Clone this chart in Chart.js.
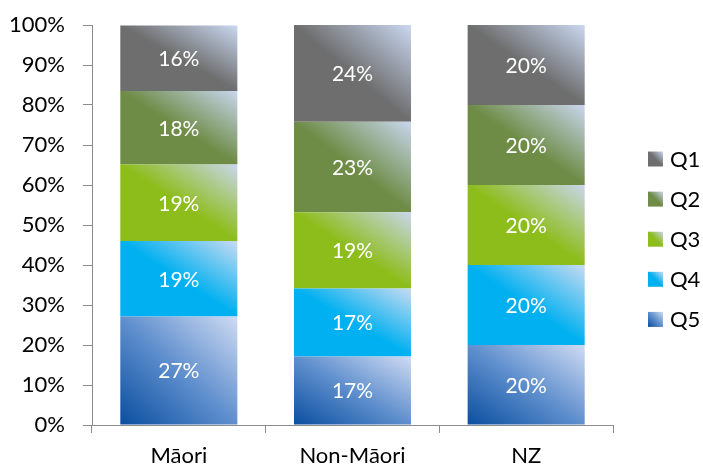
<!DOCTYPE html>
<html>
<head>
<meta charset="utf-8">
<script src="https://cdn.jsdelivr.net/npm/chart.js@4/dist/chart.umd.min.js"></script>
<style>
  html, body { margin: 0; padding: 0; background: #fff; }
  #wrap { width: 703px; height: 470px; position: relative; }
</style>
</head>
<body>
<div id="wrap"><canvas id="grafico"></canvas></div>
<script>
// dados (percentuais, de baixo para cima)
const categorias = ["Māori", "Non-Māori", "NZ"];
const serieQ5 = [27.1, 17.1, 20];
const serieQ4 = [18.9, 17.0, 20];
const serieQ3 = [19.1, 19.1, 20];
const serieQ2 = [18.4, 22.6, 20];
const serieQ1 = [16.4, 24.2, 20];
const ticksY = [0, 10, 20, 30, 40, 50, 60, 70, 80, 90, 100];

const FONTE = "Lato, 'Open Sans', sans-serif";
const BAR_PCT = 0.674;

// cores: base, meio, claro
const cores = {
  Q5: ["#0a4e9f", "#5f8fcd", "#cfdbf3"],
  Q4: ["#00b0f0", "#00b0f0", "#c8dbf2"],
  Q3: ["#8dbd1b", "#8dbd1b", "#c9d6ec"],
  Q2: ["#6e8c46", "#6e8c46", "#c9d6ee"],
  Q1: ["#6e6e6e", "#6e6e6e", "#cad8f1"],
};

function gradienteRet(ctx2d, left, top, right, bottom, cor) {
  const w = right - left;
  const h = bottom - top;
  const cx = left + w / 2;
  const cy = top + h / 2;
  const diag = Math.sqrt(w * w + h * h);
  const L = (2 * w * h) / diag;
  const ux = h / diag, uy = -w / diag;
  const g = ctx2d.createLinearGradient(
    cx - ux * L / 2, cy - uy * L / 2,
    cx + ux * L / 2, cy + uy * L / 2
  );
  g.addColorStop(0, cor[0]);
  g.addColorStop(0.5, cor[1]);
  g.addColorStop(1, cor[2]);
  return g;
}

function fundoSegmento(nome) {
  return (context) => {
    const cor = cores[nome];
    if (context.type !== "data") return cor[1];
    const chart = context.chart;
    const xs = chart.scales.x, ys = chart.scales.y;
    if (!chart.chartArea || !xs || !ys) return cor[1];
    const i = context.dataIndex;
    let base = 0;
    for (let d = 0; d < context.datasetIndex; d++) {
      base += chart.data.datasets[d].data[i];
    }
    const topo = base + chart.data.datasets[context.datasetIndex].data[i];
    const cx = xs.getPixelForValue(i);
    const meia = xs.width / categorias.length * BAR_PCT / 2;
    const yTop = ys.getPixelForValue(topo);
    const yBot = ys.getPixelForValue(base);
    if (![cx, meia, yTop, yBot].every(Number.isFinite) || meia <= 0 || yBot - yTop <= 0) return cor[1];
    return gradienteRet(chart.ctx, cx - meia, yTop, cx + meia, yBot, cor);
  };
}

// rótulos brancos no meio de cada segmento
const pluginRotulos = {
  id: "rotulos",
  afterDatasetsDraw(chart) {
    const ctx = chart.ctx;
    ctx.save();
    ctx.fillStyle = "#ffffff";
    ctx.font = "21px " + FONTE;
    ctx.textAlign = "center";
    ctx.textBaseline = "middle";
    chart.data.datasets.forEach((ds, d) => {
      const meta = chart.getDatasetMeta(d);
      meta.data.forEach((el, i) => {
        const { x, y, base } = el.getProps(["x", "y", "base"], true);
        ctx.fillText(Math.round(ds.data[i]) + "%", x, (y + base) / 2 + 1);
      });
    });
    ctx.restore();
  }
};

// legenda à direita, Q1 em cima
const pluginLegenda = {
  id: "legendaLateral",
  afterDraw(chart) {
    const ctx = chart.ctx;
    const area = chart.chartArea;
    const x0 = area.right + 35;
    const y0 = area.top + 134;
    ctx.save();
    ctx.font = "22px " + FONTE;
    ctx.textBaseline = "middle";
    ctx.textAlign = "left";
    const ds = chart.data.datasets.slice().reverse();
    ds.forEach((d, k) => {
      const cy = y0 + k * 40.1;
      ctx.fillStyle = gradienteRet(ctx, x0, cy - 7.5, x0 + 15, cy + 7.5, cores[d.label]);
      ctx.fillRect(x0, cy - 7.5, 15, 15);
      ctx.fillStyle = "#000000";
      ctx.fillText(d.label, x0 + 22, cy + 1);
    });
    ctx.restore();
  }
};

new Chart(document.getElementById("grafico"), {
  type: "bar",
  data: {
    labels: categorias,
    datasets: [
      { label: "Q5", data: serieQ5, backgroundColor: fundoSegmento("Q5") },
      { label: "Q4", data: serieQ4, backgroundColor: fundoSegmento("Q4") },
      { label: "Q3", data: serieQ3, backgroundColor: fundoSegmento("Q3") },
      { label: "Q2", data: serieQ2, backgroundColor: fundoSegmento("Q2") },
      { label: "Q1", data: serieQ1, backgroundColor: fundoSegmento("Q1") },
    ]
  },
  options: {
    responsive: true,
    maintainAspectRatio: false,
    animation: false,
    categoryPercentage: 1,
    barPercentage: BAR_PCT,
    layout: { padding: { top: 25, right: 90, bottom: 0, left: 0 } },
    plugins: {
      legend: { display: false },
      tooltip: { enabled: false }
    },
    scales: {
      x: {
        stacked: true,
        afterFit(scale) { scale.height = 45; },
        border: { color: "#8c8c8c", width: 1 },
        grid: {
          offset: true,
          drawOnChartArea: false,
          drawTicks: true,
          tickLength: 8,
          color: "#8c8c8c"
        },
        ticks: {
          color: "#000000",
          padding: 10,
          font: { family: FONTE, size: 22 }
        }
      },
      y: {
        stacked: true,
        min: 0,
        max: 100,
        afterFit(scale) {
          scale.width = 92;
          scale.paddingTop = 0;
          scale.paddingBottom = 0;
        },
        afterBuildTicks(scale) { scale.ticks = ticksY.map(v => ({ value: v })); },
        border: { color: "#8c8c8c", width: 1 },
        grid: {
          drawOnChartArea: false,
          drawTicks: true,
          tickLength: 9,
          color: "#8c8c8c"
        },
        ticks: {
          color: "#000000",
          padding: 18,
          font: { family: FONTE, size: 22 },
          callback: (v) => v + "%"
        }
      }
    }
  },
  plugins: [pluginRotulos, pluginLegenda]
});
</script>
</body>
</html>
